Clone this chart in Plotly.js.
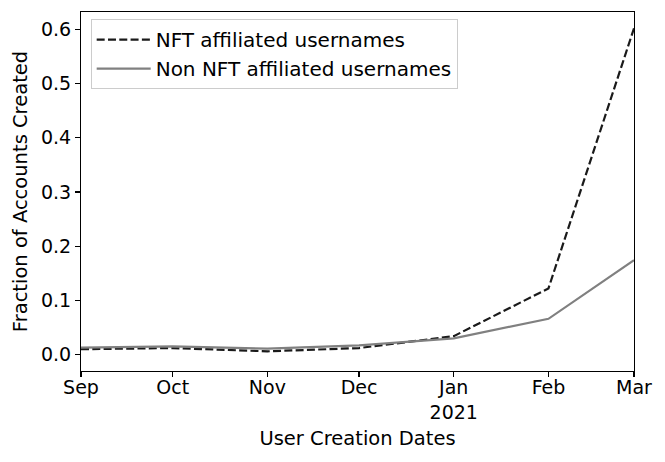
<!DOCTYPE html>
<html>
<head>
<meta charset="utf-8">
<script src="https://cdn.plot.ly/plotly-3.0.1.min.js"></script>
<style>
  html, body { margin: 0; padding: 0; background: #fff; }
  #chart { width: 665px; height: 462px; }
</style>
</head>
<body>
<div id="chart"></div>
<script>
// Month starts shown on the x axis
const months = ['2020-09-01', '2020-10-01', '2020-11-01', '2020-12-01', '2021-01-01', '2021-02-01', '2021-03-01'];
const monthLabels = ['Sep', 'Oct', 'Nov', 'Dec', 'Jan<br>2021', 'Feb', 'Mar'];

// Fraction of accounts created per month
const nftFraction = [0.010, 0.012, 0.006, 0.012, 0.034, 0.122, 0.602];
const nonNftFraction = [0.013, 0.015, 0.011, 0.017, 0.030, 0.066, 0.174];

const yTicks = [0.0, 0.1, 0.2, 0.3, 0.4, 0.5, 0.6];

const font = 'DejaVu Sans, sans-serif';

const traces = [
  {
    x: months,
    y: nftFraction,
    name: 'NFT affiliated usernames',
    type: 'scatter',
    mode: 'lines',
    line: { color: '#1a1a1a', width: 2.2, dash: '8px,3.3px' }
  },
  {
    x: months,
    y: nonNftFraction,
    name: 'Non NFT affiliated usernames',
    type: 'scatter',
    mode: 'lines',
    line: { color: '#808080', width: 2.2 }
  }
];

const layout = {
  width: 665,
  height: 462,
  paper_bgcolor: '#fff',
  plot_bgcolor: '#fff',
  font: { family: font, size: 19, color: '#000' },
  margin: { t: 12, r: 31, b: 91, l: 81 },
  showlegend: true,
  legend: {
    x: 0.0175,
    y: 0.98,
    xanchor: 'left',
    yanchor: 'top',
    bgcolor: 'rgba(255,255,255,0.8)',
    bordercolor: '#cccccc',
    borderwidth: 1,
    itemwidth: 54,
    font: { family: font, size: 20, color: '#000' }
  },
  xaxis: {
    type: 'date',
    range: [months[0], months[months.length - 1]],
    tickvals: months,
    ticktext: monthLabels,
    ticks: 'outside',
    ticklen: 5,
    tickwidth: 1.1,
    tickcolor: '#000',
    ticklabelstandoff: -6,
    showgrid: false,
    zeroline: false,
    showline: true,
    linecolor: '#000',
    linewidth: 1.1,
    mirror: true,
    title: { text: 'User Creation Dates', font: { family: font, size: 19.5 }, standoff: 9 }
  },
  yaxis: {
    range: [-0.0303, 0.632],
    tickvals: yTicks,
    tickformat: '.1f',
    ticks: 'outside',
    ticklen: 5,
    tickwidth: 1.1,
    tickcolor: '#000',
    showgrid: false,
    zeroline: false,
    showline: true,
    linecolor: '#000',
    linewidth: 1.1,
    mirror: true,
    title: { text: 'Fraction of Accounts Created', font: { family: font, size: 19.5 }, standoff: 8 }
  }
};

Plotly.newPlot('chart', traces, layout, { displayModeBar: false, staticPlot: true });
</script>
</body>
</html>
